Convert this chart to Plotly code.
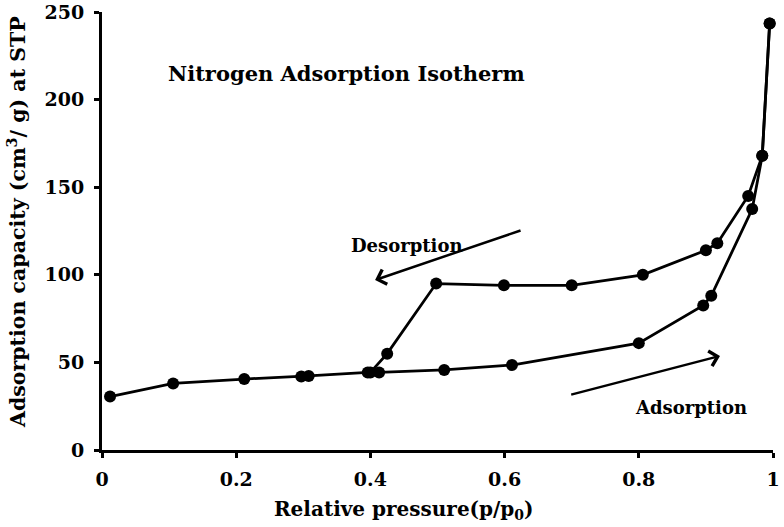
import plotly.graph_objects as go

# Data
ads_x = [0.012, 0.106, 0.212, 0.297, 0.308, 0.396, 0.413, 0.510, 0.611, 0.800, 0.896, 0.908, 0.969, 0.984, 0.995]
ads_y = [30.5, 38.0, 40.5, 42.0, 42.3, 44.3, 44.3, 45.7, 48.5, 61.0, 82.5, 88.0, 137.5, 168.0, 243.5]

des_x = [0.995, 0.984, 0.963, 0.917, 0.900, 0.806, 0.700, 0.599, 0.498, 0.425, 0.400]
des_y = [243.5, 168.0, 145.0, 118.0, 114.0, 100.0, 94.0, 94.0, 95.0, 55.0, 44.3]

x_ticks = [0, 0.2, 0.4, 0.6, 0.8, 1]
x_tick_labels = ["0", "0.2", "0.4", "0.6", "0.8", "1"]
y_ticks = [0, 50, 100, 150, 200, 250]

FONT = "DejaVu Serif"

fig = go.Figure()
for xs, ys, nm in [(ads_x, ads_y, "Adsorption"), (des_x, des_y, "Desorption")]:
    fig.add_trace(go.Scatter(
        x=xs, y=ys, mode="lines+markers", name=nm,
        line=dict(color="black", width=2.8),
        marker=dict(color="black", size=12, symbol="circle"),
        cliponaxis=False,
    ))

axis_common = dict(
    showline=True, linecolor="black", linewidth=3,
    ticks="outside", tickcolor="black", tickwidth=3, ticklen=5,
    showgrid=False, zeroline=False, automargin=False,
    tickfont=dict(family=FONT, size=19, color="black", weight="bold"),
)

fig.update_layout(
    width=784, height=527,
    margin=dict(l=102, r=11, t=12, b=77),
    paper_bgcolor="white", plot_bgcolor="white",
    showlegend=False,
    xaxis=dict(range=[0, 1], tickvals=x_ticks, ticktext=x_tick_labels,
               ticklabelstandoff=5, **axis_common),
    yaxis=dict(range=[0, 250], tickvals=y_ticks, ticklabelstandoff=6,
               ticklabeloverflow="allow", **axis_common),
)

annos = [
    dict(text="<b>Nitrogen Adsorption Isotherm</b>", x=0.364, y=215, xref="x", yref="y",
         showarrow=False, font=dict(family=FONT, size=21, color="black")),
    dict(text="<b>Desorption</b>", x=0.455, y=117, xref="x", yref="y",
         showarrow=False, font=dict(family=FONT, size=18, color="black")),
    dict(text="<b>Adsorption</b>", x=0.878, y=24, xref="x", yref="y",
         showarrow=False, font=dict(family=FONT, size=18, color="black")),
    dict(text="<b>Relative pressure(p/p<sub>0</sub>)</b>", x=0.45, y=-0.136, xref="paper", yref="paper",
         xanchor="center", yanchor="middle",
         showarrow=False, font=dict(family=FONT, size=20, color="black")),
    dict(text="<b>Adsorption capacity (cm<sup>3</sup>/ g) at STP</b>", x=-0.127, y=0.52,
         xref="paper", yref="paper", textangle=-90, showarrow=False,
         xanchor="center", yanchor="middle",
         font=dict(family=FONT, size=20.5, color="black")),
]
for a in annos:
    fig.add_annotation(**a)

# arrows
fig.add_annotation(x=0.407, y=97, ax=0.626, ay=125.6, xref="x", yref="y", axref="x", ayref="y",
                   text="", showarrow=True, arrowhead=4, arrowsize=1.2, arrowwidth=2.5, arrowcolor="black")
fig.add_annotation(x=0.921, y=53.7, ax=0.697, ay=31.4, xref="x", yref="y", axref="x", ayref="y",
                   text="", showarrow=True, arrowhead=4, arrowsize=1.2, arrowwidth=2.5, arrowcolor="black")

# remove the default 8px page margin so the figure fills the window exactly
fig.write_html("out.html", config={"displayModeBar": False},
               post_script="document.body.style.margin='0';")
